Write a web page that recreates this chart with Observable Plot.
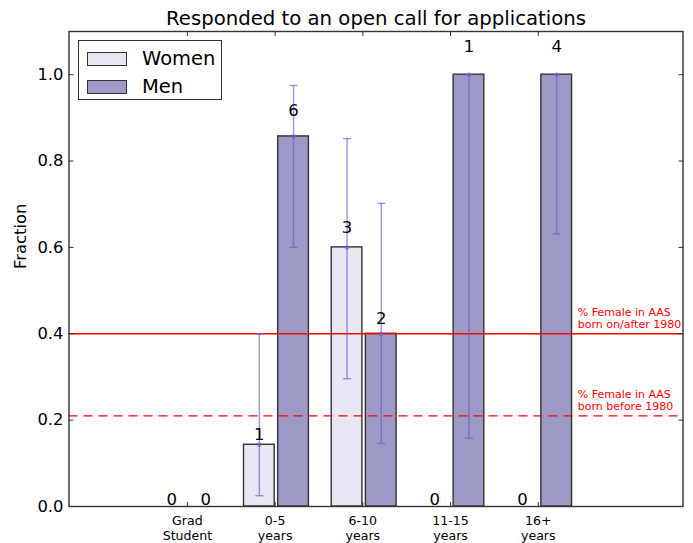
<!DOCTYPE html>
<html>
<head>
<meta charset="utf-8">
<script src="https://cdn.jsdelivr.net/npm/d3@7"></script>
<script src="https://cdn.jsdelivr.net/npm/@observablehq/plot@0.6"></script>
<style>
  html, body { margin: 0; padding: 0; background: #fff; }
  #wrap { position: relative; width: 693px; height: 543px; font-family: "DejaVu Sans", sans-serif; }
  #legend { position: absolute; left: 78px; top: 40px; width: 142px; height: 58px; border: 1.3px solid #333; background: #fff; }
  .row { position: absolute; left: 8px; display: flex; align-items: center; }
  .sw { width: 38px; height: 12px; border: 1.3px solid #333; }
  .lab { margin-left: 15px; font-size: 19.5px; color: #000; line-height: 1; }
</style>
</head>
<body>
<div id="wrap">
  <div id="chart"></div>
  <div id="legend"></div>
</div>
<script>
const title = "Responded to an open call for applications";
const categories = ["Grad\nStudent", "0-5\nyears", "6-10\nyears", "11-15\nyears", "16+\nyears"];
const seriesNames = ["Women", "Men"];
const seriesColors = ["#e8e6f2", "#9e9ac8"];
const womenFrac = [0, 0.143, 0.60, 0, 0];
const menFrac = [0, 0.857, 0.40, 1.0, 1.0];
const womenCount = [0, 1, 3, 0, 0];
const menCount = [0, 6, 2, 1, 4];
const womenErrLo = [null, 0.025, 0.296, null, null];
const womenErrHi = [null, 0.40, 0.852, null, null];
const menErrLo = [null, 0.600, 0.146, 0.158, 0.631];
const menErrHi = [null, 0.975, 0.702, 1.0, 1.0];
const refValues = [0.40, 0.21];
const refLabels = ["% Female in AAS\nborn on/after 1980", "% Female in AAS\nborn before 1980"];
const refLabelX = 4.45;
const yTicks = [0, 0.2, 0.4, 0.6, 0.8, 1.0];

const idx = categories.map((c, i) => i);
const women = idx.map(i => ({i, frac: womenFrac[i], n: womenCount[i], lo: womenErrLo[i], hi: womenErrHi[i], x1: i - 0.355, x2: i - 0.005, cx: i - 0.18}));
const men = idx.map(i => ({i, frac: menFrac[i], n: menCount[i], lo: menErrLo[i], hi: menErrHi[i], x1: i + 0.035, x2: i + 0.385, cx: i + 0.21}));
const all = women.concat(men);
const errs = all.filter(d => d.lo != null);
const refs = refValues.map((v, k) => ({v, label: refLabels[k]}));

const errColor = "#6a5acd";
const errOpacity = 0.65;
const capSymbol = { draw(ctx) { ctx.moveTo(-4, 0); ctx.lineTo(4, 0); } };

const chart = Plot.plot({
  width: 693,
  height: 543,
  marginLeft: 68.5,
  marginRight: 10.5,
  marginTop: 31,
  marginBottom: 37,
  style: { fontFamily: "DejaVu Sans", background: "white", color: "#000" },
  x: { domain: [-1.35, 5.65], label: null },
  y: { domain: [0, 1.1], label: null },
  marks: [
    Plot.rectY(women.filter(d => d.frac > 0), { x1: "x1", x2: "x2", y1: 0, y2: "frac", fill: seriesColors[0], stroke: "#333", strokeWidth: 1.4 }),
    Plot.rectY(men.filter(d => d.frac > 0), { x1: "x1", x2: "x2", y1: 0, y2: "frac", fill: seriesColors[1], stroke: "#333", strokeWidth: 1.4 }),
    Plot.ruleY(refs.slice(0, 1), { y: "v", stroke: "red", strokeWidth: 1.3 }),
    Plot.ruleY(refs.slice(1), { y: "v", stroke: "red", strokeWidth: 1.3, strokeDasharray: "9,6" }),
    Plot.ruleX(errs, { x: "cx", y1: "lo", y2: "hi", stroke: errColor, strokeOpacity: errOpacity, strokeWidth: 1.4 }),
    Plot.dot(errs, { x: "cx", y: "lo", symbol: capSymbol, stroke: errColor, strokeOpacity: errOpacity, strokeWidth: 1.4 }),
    Plot.dot(errs, { x: "cx", y: "hi", symbol: capSymbol, stroke: errColor, strokeOpacity: errOpacity, strokeWidth: 1.4 }),
    Plot.dot(errs, { x: "cx", y: "frac", r: 2.2, fill: errColor, fillOpacity: 0.65, stroke: null }),
    Plot.text(all, { x: "cx", y: d => d.frac * 1.05, text: d => String(d.n), lineAnchor: "bottom", dy: -1.5, fontSize: 16.5, fill: "#000" }),
    Plot.text(refs, { x: () => refLabelX, y: "v", text: "label", textAnchor: "start", lineAnchor: "bottom", fontSize: 11, lineHeight: 1.05, fill: "red", dy: -6 }),
    Plot.axisX(idx, { tickSize: -4, tickPadding: 12, tickFormat: i => categories[i], fontSize: 12.6, lineHeight: 1.19, stroke: "#333", fill: "#000" }),
    Plot.axisX(idx, { anchor: "top", tickSize: -4, tickFormat: () => "", stroke: "#333" }),
    Plot.axisY(yTicks, { tickSize: -5, tickPadding: 10.5, tickFormat: d3.format(".1f"), fontSize: 16.4, stroke: "#333", fill: "#000" }),
    Plot.axisY(yTicks, { anchor: "right", tickSize: -5, tickFormat: () => "", stroke: "#333" }),
    Plot.frame({ stroke: "#333", strokeWidth: 1.4 }),
    Plot.text([title], { frameAnchor: "top", dy: -7, lineAnchor: "bottom", fontSize: 19.7, fill: "#000" }),
    Plot.text(["Fraction"], { frameAnchor: "left", dx: -48.5, rotate: -90, fontSize: 16.4, fill: "#000" })
  ]
});
document.getElementById("chart").appendChild(chart);

const legend = document.getElementById("legend");
seriesNames.forEach((name, k) => {
  const row = document.createElement("div");
  row.className = "row";
  row.style.top = (k === 0 ? 8 : 36) + "px";
  row.innerHTML = `<div class="sw" style="background:${seriesColors[k]}"></div><div class="lab">${name}</div>`;
  legend.appendChild(row);
});
</script>
</body>
</html>
